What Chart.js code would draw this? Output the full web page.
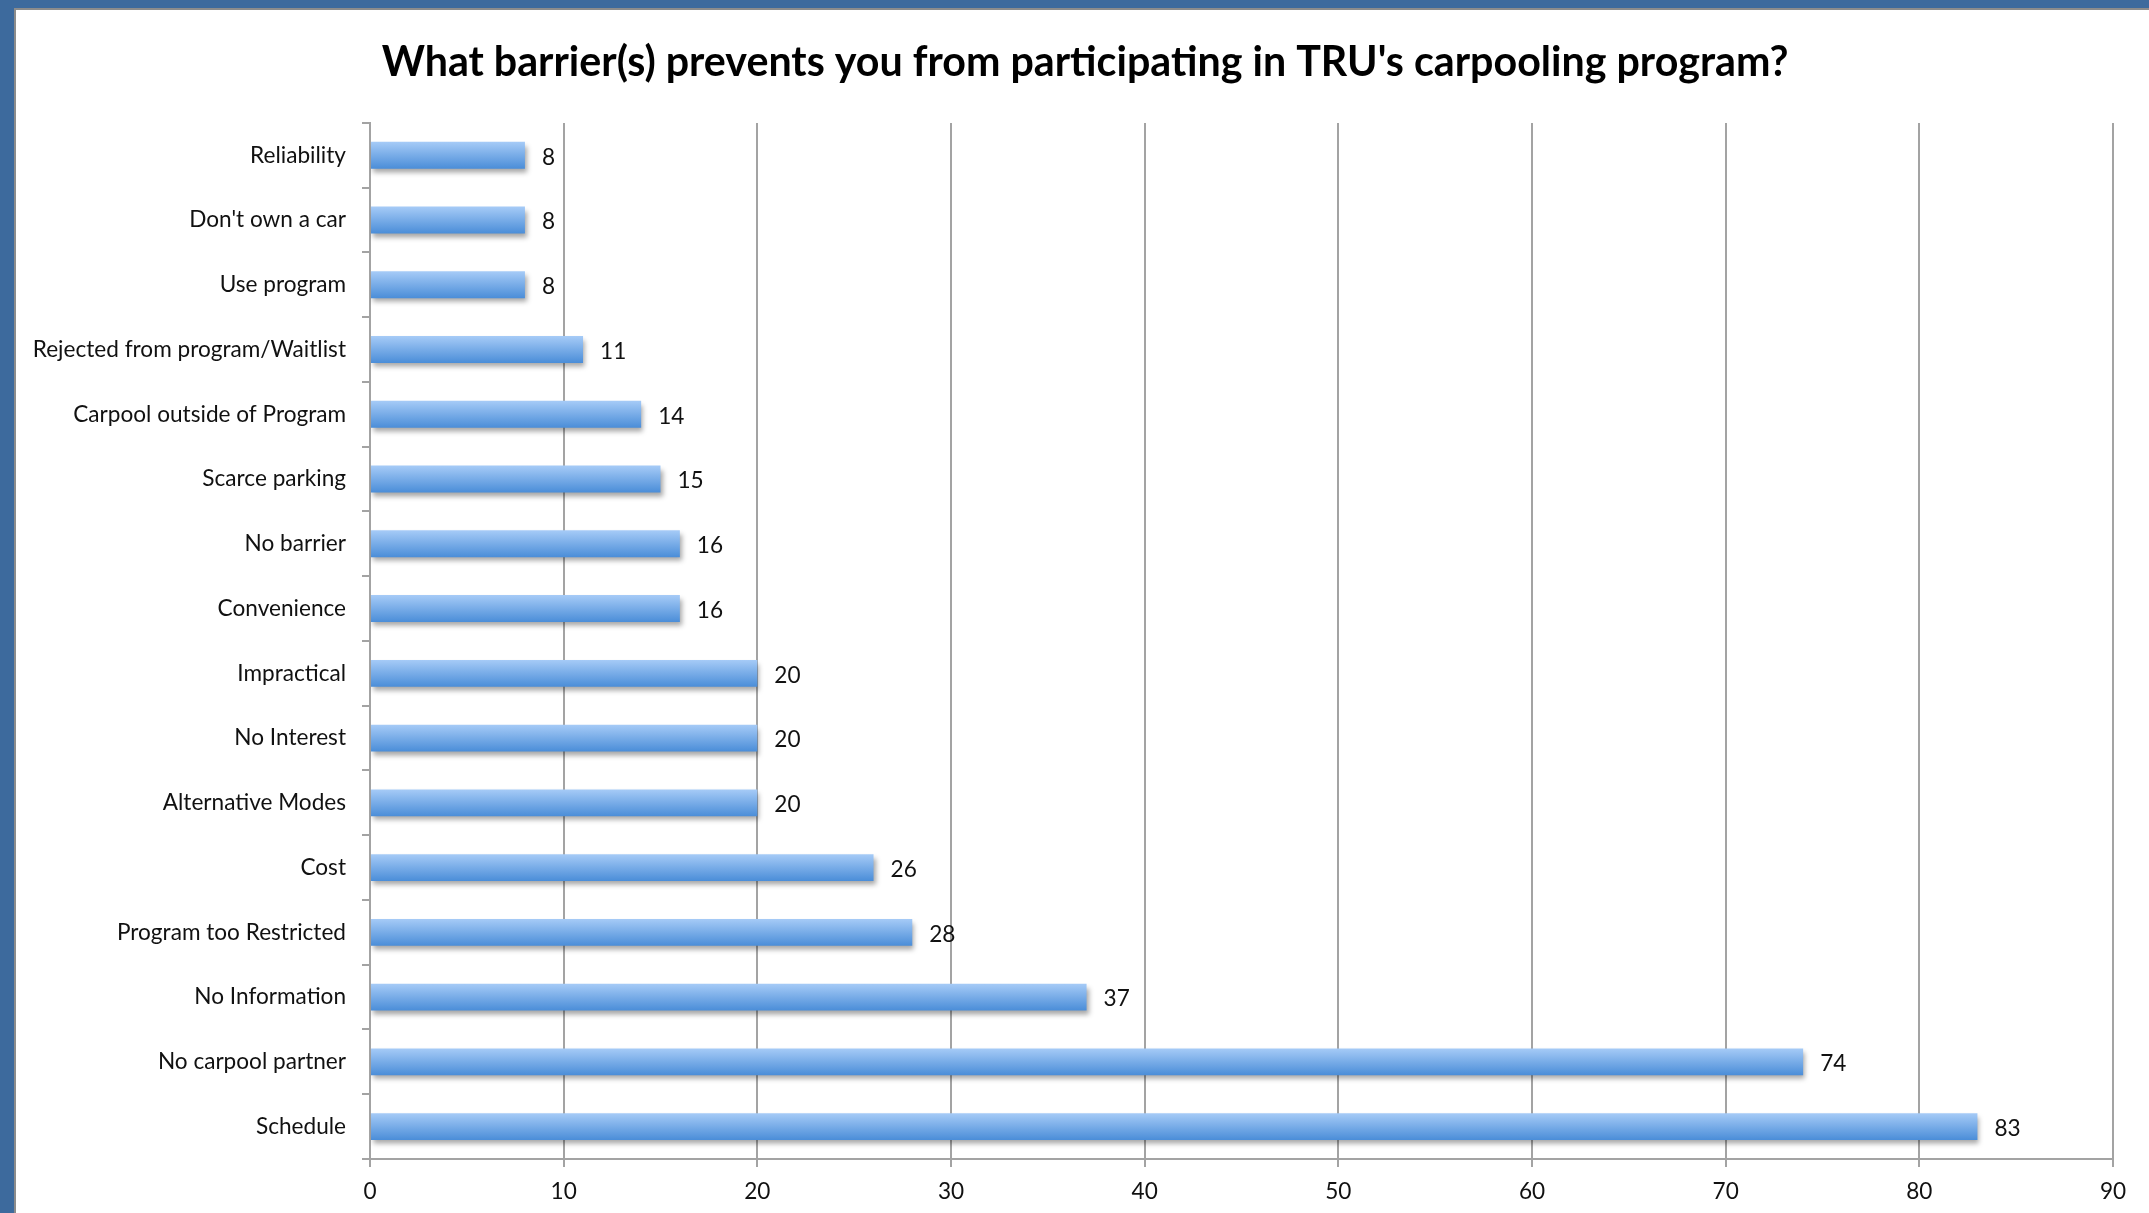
<!DOCTYPE html>
<html>
<head>
<meta charset="utf-8">
<script src="https://cdn.jsdelivr.net/npm/chart.js@4"></script>
<style>
  html, body { margin: 0; padding: 0; width: 2149px; height: 1213px; overflow: hidden; background: #3d6a9d; }
  #panel { position: absolute; left: 14px; top: 8px; right: 0; bottom: 0; background: #ffffff; border-left: 2px solid #8c8c8c; border-top: 2px solid #8c8c8c; }
  #wrap { position: absolute; left: 0; top: 0; width: 2149px; height: 1213px; }
</style>
</head>
<body>
<div id="panel"></div>
<div id="wrap"><canvas id="c" width="2149" height="1213"></canvas></div>
<script>
const titleText = "What barrier(s) prevents you from participating in TRU's carpooling program?";
const categories = [
  "Reliability", "Don't own a car", "Use program", "Rejected from program/Waitlist",
  "Carpool outside of Program", "Scarce parking", "No barrier", "Convenience",
  "Impractical", "No Interest", "Alternative Modes", "Cost",
  "Program too Restricted", "No Information", "No carpool partner", "Schedule"
];
const values = [8, 8, 8, 11, 14, 15, 16, 16, 20, 20, 20, 26, 28, 37, 74, 83];
const xTicks = [0, 10, 20, 30, 40, 50, 60, 70, 80, 90];

const FONT = "Lato, 'Open Sans', sans-serif";
const PAD_LEFT = 57;

function barGradient(ctx) {
  const chart = ctx.chart;
  const ys = chart.scales && chart.scales.y;
  if (!ys || !chart.chartArea) return '#78aee8';
  const y = ys.getPixelForValue(ctx.dataIndex);
  const half = 13.5;
  const g = chart.ctx.createLinearGradient(0, y - half, 0, y + half);
  g.addColorStop(0, '#a6cbf7');
  g.addColorStop(1, '#4a8dd8');
  return g;
}

const shadowAndLabels = {
  id: 'shadowAndLabels',
  beforeDatasetsDraw(chart) {
    const c = chart.ctx;
    c.save();
    c.shadowColor = 'rgba(0,0,0,0.35)';
    c.shadowBlur = 5;
    c.shadowOffsetX = 2;
    c.shadowOffsetY = 4;
  },
  afterDatasetsDraw(chart) {
    const c = chart.ctx;
    c.restore();
    const meta = chart.getDatasetMeta(0);
    c.save();
    c.font = "22.6px " + FONT;
    c.fillStyle = '#111111';
    c.textAlign = 'left';
    c.textBaseline = 'middle';
    meta.data.forEach((bar, i) => {
      c.fillText(String(values[i]), bar.x + 17, bar.y + 2);
    });
    c.restore();
  }
};

new Chart(document.getElementById('c'), {
  type: 'bar',
  data: {
    labels: categories,
    datasets: [{
      data: values,
      backgroundColor: barGradient,
      borderWidth: 0,
      barPercentage: 0.416,
      categoryPercentage: 1.0
    }]
  },
  options: {
    indexAxis: 'y',
    responsive: false,
    animation: false,
    events: [],
    layout: { padding: { left: PAD_LEFT, right: 36, top: 0, bottom: 0 } },
    plugins: {
      legend: { display: false },
      tooltip: { enabled: false },
      title: {
        display: true,
        text: titleText,
        color: '#000000',
        font: { family: FONT, size: 41.2, weight: 'bold', lineHeight: 1.2 },
        padding: { top: 38, bottom: 35.5 }
      }
    },
    scales: {
      x: {
        min: 0, max: 90,
        afterBuildTicks(s) { s.ticks = xTicks.map(v => ({ value: v })); },
        afterFit(s) { s.height = 54; },
        grid: { color: '#a3a3a3', lineWidth: 2, drawTicks: true, tickLength: 8, tickColor: '#a3a3a3' },
        border: { display: true, color: '#a3a3a3', width: 2 },
        ticks: { color: '#111111', font: { family: FONT, size: 22.6 }, padding: 11, maxRotation: 0 }
      },
      y: {
        offset: true,
        afterFit(s) {
          s.width = 370 - PAD_LEFT;
          s._computeLabelArea = function () { return undefined; };
        },
        grid: { display: true, drawOnChartArea: false, drawTicks: true, tickLength: 8, color: '#a3a3a3', lineWidth: 2, offset: true },
        border: { display: true, color: '#a3a3a3', width: 2 },
        ticks: { color: '#111111', font: { family: FONT, size: 22.6 }, padding: 16, autoSkip: false }
      }
    }
  },
  plugins: [shadowAndLabels]
});
</script>
</body>
</html>
